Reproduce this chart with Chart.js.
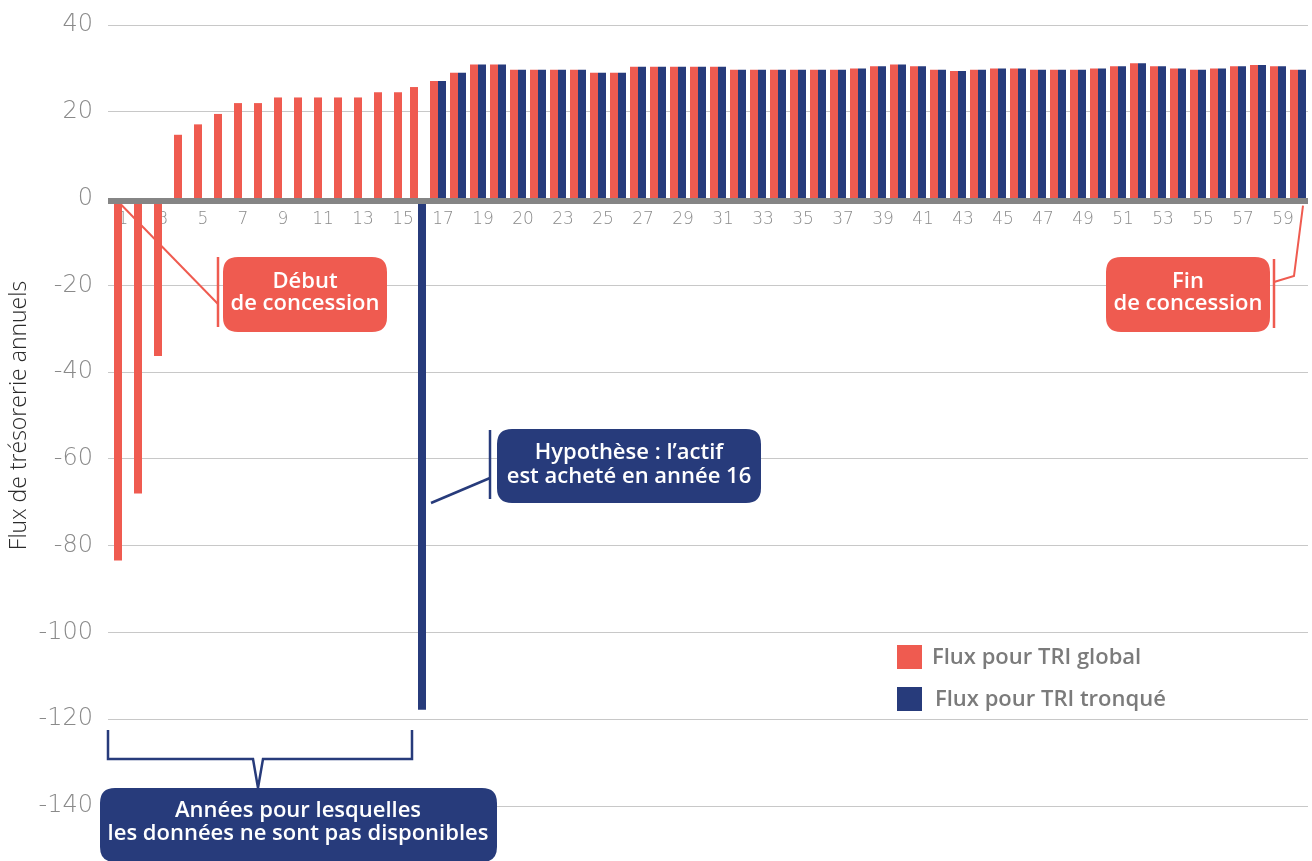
<!DOCTYPE html>
<html lang="fr">
<head>
<meta charset="utf-8">
<title>Flux de trésorerie annuels</title>
<script src="https://cdn.jsdelivr.net/npm/chart.js@4.4.1/dist/chart.umd.min.js"></script>
<style>
  html, body { margin: 0; padding: 0; background: #ffffff; }
  #wrap { position: relative; width: 1312px; height: 861px; }
</style>
</head>
<body>
<div id="wrap"><canvas id="chart" width="1312" height="861"></canvas></div>
<script>
// Années de la concession (catégories de l'axe horizontal)
const years = [
  1, 2, 3, 4, 5, 6, 7, 8, 9, 10, 11, 12, 13, 14, 15, 16, 17, 18, 19, 20,
  21, 22, 23, 24, 25, 26, 27, 28, 29, 30, 31, 32, 33, 34, 35, 36, 37, 38, 39, 40,
  41, 42, 43, 44, 45, 46, 47, 48, 49, 50, 51, 52, 53, 54, 55, 56, 57, 58, 59, 60
];

// Libellés affichés sous l'axe (une année sur deux)
const tickLabels = [
  '1', '3', '5', '7', '9', '11', '13', '15', '17', '19',
  '20', '23', '25', '27', '29', '31', '33', '35', '37', '39',
  '41', '43', '45', '47', '49', '51', '53', '55', '57', '59'
];

// Flux pour TRI global
const fluxGlobal = [
  -83.4, -68.0, -36.3, 14.7, 17.1, 19.5, 22.0, 22.0, 23.3, 23.3,
  23.3, 23.3, 23.3, 24.5, 24.5, 25.7, 27.1, 29.0, 30.9, 30.9,
  29.7, 29.7, 29.7, 29.7, 29.0, 29.0, 30.4, 30.4, 30.4, 30.4,
  30.4, 29.7, 29.7, 29.7, 29.7, 29.7, 29.7, 30.0, 30.5, 30.9,
  30.5, 29.7, 29.4, 29.7, 30.0, 30.0, 29.7, 29.7, 29.7, 30.0,
  30.5, 31.2, 30.5, 30.0, 29.7, 30.0, 30.5, 30.8, 30.5, 29.7
];

// Flux pour TRI tronqué (actif acheté en année 16)
const fluxTronque = [
  null, null, null, null, null, null, null, null, null, null,
  null, null, null, null, null, -117.8, 27.1, 29.0, 30.9, 30.9,
  29.7, 29.7, 29.7, 29.7, 29.0, 29.0, 30.4, 30.4, 30.4, 30.4,
  30.4, 29.7, 29.7, 29.7, 29.7, 29.7, 29.7, 30.0, 30.5, 30.9,
  30.5, 29.7, 29.4, 29.7, 30.0, 30.0, 29.7, 29.7, 29.7, 30.0,
  30.5, 31.2, 30.5, 30.0, 29.7, 30.0, 30.5, 30.8, 30.5, 29.7
];

const seriesNames = ['Flux pour TRI global', 'Flux pour TRI tronqué'];
const yRange = { min: -140, max: 40, step: 20 };

const RED = '#EF5B50';
const NAVY = '#273B7B';
const BOX_FONT = '600 22px "Open Sans", Lato, sans-serif';
const TICK_FAMILY = '"DejaVu Sans", "Open Sans", sans-serif';

function roundBox(ctx, x, y, w, h, r, fill) {
  ctx.beginPath();
  ctx.moveTo(x + r, y);
  ctx.lineTo(x + w - r, y);
  ctx.quadraticCurveTo(x + w, y, x + w, y + r);
  ctx.lineTo(x + w, y + h - r);
  ctx.quadraticCurveTo(x + w, y + h, x + w - r, y + h);
  ctx.lineTo(x + r, y + h);
  ctx.quadraticCurveTo(x, y + h, x, y + h - r);
  ctx.lineTo(x, y + r);
  ctx.quadraticCurveTo(x, y, x + r, y);
  ctx.closePath();
  ctx.fillStyle = fill;
  ctx.fill();
}

function boxText(ctx, lines, cx, ys) {
  ctx.fillStyle = '#ffffff';
  ctx.font = BOX_FONT;
  ctx.textAlign = 'center';
  ctx.textBaseline = 'middle';
  lines.forEach((t, i) => ctx.fillText(t, cx, ys[i]));
}

function polyline(ctx, pts, color, width) {
  ctx.beginPath();
  ctx.moveTo(pts[0][0], pts[0][1]);
  for (let i = 1; i < pts.length; i++) ctx.lineTo(pts[i][0], pts[i][1]);
  ctx.strokeStyle = color;
  ctx.lineWidth = width;
  ctx.lineJoin = 'miter';
  ctx.stroke();
}

// Épaisse ligne grise de l'axe horizontal, posée sur les barres
const zeroAxis = {
  id: 'zeroAxis',
  afterDatasetsDraw(chart) {
    const ctx = chart.ctx;
    const area = chart.chartArea;
    const y = chart.scales.y.getPixelForValue(0) + 2.5;
    ctx.save();
    ctx.beginPath();
    ctx.moveTo(area.left, y);
    ctx.lineTo(area.right, y);
    ctx.strokeStyle = '#858585';
    ctx.lineWidth = 6;
    ctx.stroke();
    ctx.restore();
  }
};

// Bulles explicatives, accolade et légende dessinées par-dessus le graphique
const callouts = {
  id: 'callouts',
  afterDraw(chart) {
    const ctx = chart.ctx;
    const xs = chart.scales.x;
    const ys = chart.scales.y;
    const zeroY = ys.getPixelForValue(0);
    ctx.save();

    // Début de concession
    polyline(ctx, [[xs.getPixelForValue(0) + 3, zeroY + 6], [218, 304]], RED, 2);
    polyline(ctx, [[218, 257], [218, 327]], RED, 2.5);
    roundBox(ctx, 223, 257, 164, 75, 15, RED);
    boxText(ctx, ['Début', 'de concession'], 305, [282, 304]);

    // Fin de concession
    polyline(ctx, [[1274, 282], [1294, 276], [xs.getPixelForValue(59) + 5, zeroY + 7]], RED, 2);
    polyline(ctx, [[1274, 259], [1274, 328]], RED, 2.5);
    roundBox(ctx, 1106, 257, 164, 75, 15, RED);
    boxText(ctx, ['Fin', 'de concession'], 1188, [282, 304]);

    // Hypothèse d'achat en année 16
    polyline(ctx, [[490, 478], [xs.getPixelForValue(15) + 13, 503]], NAVY, 2.5);
    polyline(ctx, [[490, 430], [490, 499]], NAVY, 2.5);
    roundBox(ctx, 497, 429, 264, 74, 15, NAVY);
    boxText(ctx, ['Hypothèse : l’actif', 'est acheté en année 16'], 629, [453, 477]);

    // Accolade des années sans données
    const bl = xs.getPixelForValue(0) - 10;
    const br = xs.getPixelForValue(15) - 6;
    polyline(ctx, [[bl, 730], [bl, 759], [253, 759], [258, 788], [263, 759], [br, 759], [br, 730]], NAVY, 2.5);
    roundBox(ctx, 100, 788, 397, 74, 15, NAVY);
    boxText(ctx, ['Années pour lesquelles', 'les données ne sont pas disponibles'], 298, [811, 834]);

    // Légende
    const ds = chart.data.datasets;
    const legendRows = [
      { x: 897, y: 645, tx: 932, ty: 658 },
      { x: 897, y: 687, tx: 935, ty: 700 }
    ];
    legendRows.forEach((r, i) => {
      ctx.fillStyle = ds[i].backgroundColor;
      ctx.fillRect(r.x, r.y, 25, 24);
      ctx.fillStyle = '#7b7b7b';
      ctx.font = '600 22px "Open Sans", Lato, sans-serif';
      ctx.textAlign = 'left';
      ctx.textBaseline = 'middle';
      ctx.fillText(ds[i].label, r.tx, r.ty);
    });

    ctx.restore();
  }
};

new Chart(document.getElementById('chart'), {
  type: 'bar',
  data: {
    labels: years,
    datasets: [
      {
        label: seriesNames[0],
        data: fluxGlobal,
        backgroundColor: RED,
        borderWidth: 0,
        skipNull: true,
        categoryPercentage: 0.8,
        barPercentage: 1.0,
        maxBarThickness: 8
      },
      {
        label: seriesNames[1],
        data: fluxTronque,
        backgroundColor: NAVY,
        borderWidth: 0,
        skipNull: true,
        categoryPercentage: 0.8,
        barPercentage: 1.0,
        maxBarThickness: 8
      }
    ]
  },
  options: {
    responsive: false,
    animation: false,
    devicePixelRatio: 1,
    layout: { padding: { left: 0, right: 4, top: 25, bottom: 55 } },
    plugins: {
      legend: { display: false },
      tooltip: { enabled: false }
    },
    scales: {
      x: {
        position: { y: 0 },
        z: 1,
        grid: { display: false, drawTicks: false },
        border: { display: false },
        ticks: {
          autoSkip: false,
          maxRotation: 0,
          padding: 11,
          labelOffset: 5,
          color: '#8a8a8a',
          font: { family: TICK_FAMILY, size: 17, weight: '200' },
          callback: (v, i) => (i % 2 === 0 ? tickLabels[i / 2] : '')
        }
      },
      y: {
        min: yRange.min,
        max: yRange.max,
        afterFit: (scale) => {
          scale.width = 108;
          scale.paddingTop = 0;
          scale.paddingBottom = 0;
        },
        grid: { color: '#c8c8c8', lineWidth: 1, drawTicks: false },
        border: { display: false },
        ticks: {
          stepSize: yRange.step,
          padding: 15,
          color: '#8a8a8a',
          font: { family: TICK_FAMILY, size: 24, weight: '200' }
        },
        title: {
          display: true,
          text: 'Flux de trésorerie annuels',
          color: '#2b2b2b',
          padding: { top: 6, bottom: 0 },
          font: { family: '"Open Sans", sans-serif', size: 23, weight: '300' }
        }
      }
    }
  },
  plugins: [zeroAxis, callouts]
});
</script>
</body>
</html>
